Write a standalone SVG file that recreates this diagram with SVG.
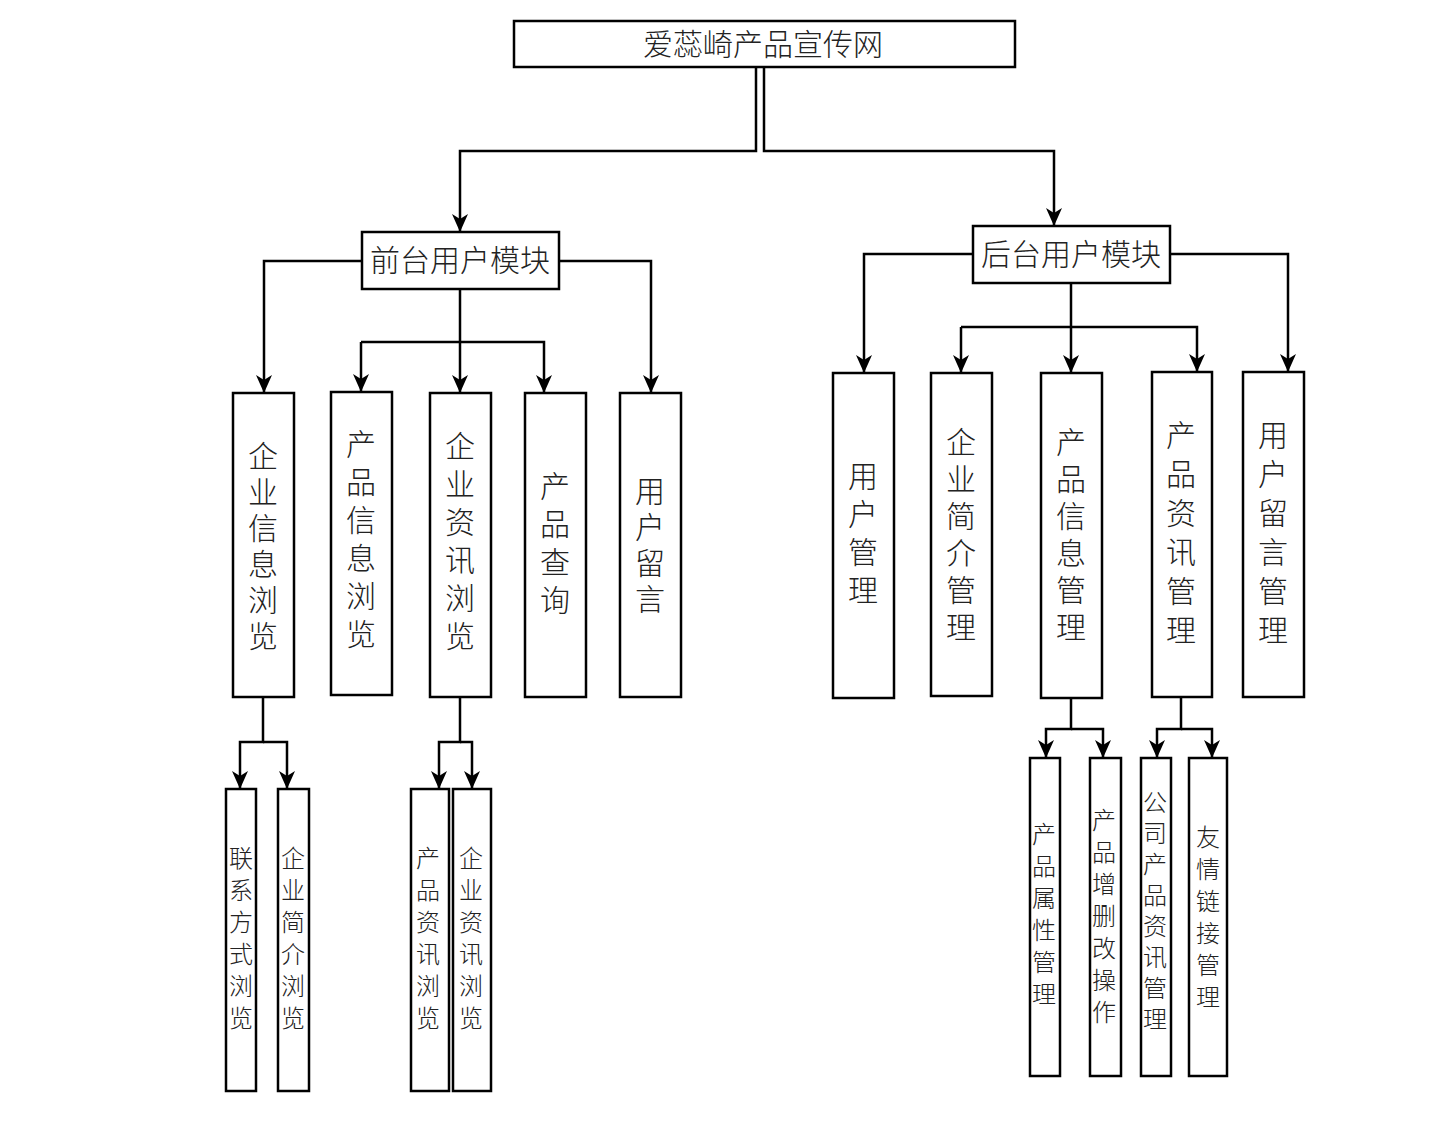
<svg xmlns="http://www.w3.org/2000/svg" width="1433" height="1144" viewBox="0 0 1433 1144">
<style>
rect{fill:#fff;stroke:#000;stroke-width:2.5}
text{font-family:"Noto Sans CJK SC","Liberation Sans",sans-serif;font-weight:300;fill:#222;text-anchor:middle}
.b{font-size:30px}.s{font-size:24px}
#c path{fill:none;stroke:#000;stroke-width:2.5;marker-end:url(#a)}
</style>
<defs><marker id="a" markerUnits="userSpaceOnUse" markerWidth="18" markerHeight="16" refX="17" refY="8" orient="auto" viewBox="0 0 18 16"><path d="M0,0 L5,8 L0,16 L18,8 Z" fill="#000"/></marker></defs>
<rect width="1433" height="1144" style="stroke:none"/>
<g id="c">
<path d="M756,67V151H460V231"/>
<path d="M764,67V151H1054V225"/>
<path d="M362,261H264V392"/><path d="M559,261H651V392"/><path d="M460,289V392"/>
<path d="M361,342H544V392"/><path d="M361,342V391"/>
<path d="M973,254H864V372"/><path d="M1170,254H1288V371"/><path d="M1071,283V372"/>
<path d="M961,327H1197V371"/><path d="M961,327V372"/>
<path d="M263,697V742H240V788"/><path d="M263,742H287V788"/>
<path d="M460,697V742H439V788"/><path d="M460,742H472V788"/>
<path d="M1071,698V729H1046V757"/><path d="M1071,729H1103V757"/>
<path d="M1181,698V729H1157V757"/><path d="M1181,729H1212V757"/>
</g>
<g id="n0"><rect x="514" y="21" width="501" height="46"/><text class="b" x="763" y="55">爱蕊崎产品宣传网</text></g>
<g id="n1"><rect x="362" y="232" width="197" height="57"/><text class="b" x="460" y="271">前台用户模块</text></g>
<g id="n2"><rect x="973" y="226" width="197" height="57"/><text class="b" x="1071" y="265">后台用户模块</text></g>
<g id="f1"><rect x="233" y="393" width="61" height="304"/><text class="b"><tspan x="263" y="467">企</tspan><tspan x="263" dy="36">业</tspan><tspan x="263" dy="36">信</tspan><tspan x="263" dy="36">息</tspan><tspan x="263" dy="36">浏</tspan><tspan x="263" dy="36">览</tspan></text></g>
<g id="f2"><rect x="331" y="392" width="61" height="303"/><text class="b"><tspan x="361" y="455">产</tspan><tspan x="361" dy="38">品</tspan><tspan x="361" dy="38">信</tspan><tspan x="361" dy="38">息</tspan><tspan x="361" dy="38">浏</tspan><tspan x="361" dy="38">览</tspan></text></g>
<g id="f3"><rect x="430" y="393" width="61" height="304"/><text class="b"><tspan x="460" y="457">企</tspan><tspan x="460" dy="38">业</tspan><tspan x="460" dy="38">资</tspan><tspan x="460" dy="38">讯</tspan><tspan x="460" dy="38">浏</tspan><tspan x="460" dy="38">览</tspan></text></g>
<g id="f4"><rect x="525" y="393" width="61" height="304"/><text class="b"><tspan x="555" y="497">产</tspan><tspan x="555" dy="38">品</tspan><tspan x="555" dy="38">查</tspan><tspan x="555" dy="38">询</tspan></text></g>
<g id="f5"><rect x="620" y="393" width="61" height="304"/><text class="b"><tspan x="650" y="502">用</tspan><tspan x="650" dy="36">户</tspan><tspan x="650" dy="36">留</tspan><tspan x="650" dy="36">言</tspan></text></g>
<g id="b1"><rect x="833" y="373" width="61" height="325"/><text class="b"><tspan x="863" y="487">用</tspan><tspan x="863" dy="38">户</tspan><tspan x="863" dy="38">管</tspan><tspan x="863" dy="38">理</tspan></text></g>
<g id="b2"><rect x="931" y="373" width="61" height="323"/><text class="b"><tspan x="961" y="453">企</tspan><tspan x="961" dy="37">业</tspan><tspan x="961" dy="37">简</tspan><tspan x="961" dy="37">介</tspan><tspan x="961" dy="37">管</tspan><tspan x="961" dy="37">理</tspan></text></g>
<g id="b3"><rect x="1041" y="373" width="61" height="325"/><text class="b"><tspan x="1071" y="453">产</tspan><tspan x="1071" dy="37">品</tspan><tspan x="1071" dy="37">信</tspan><tspan x="1071" dy="37">息</tspan><tspan x="1071" dy="37">管</tspan><tspan x="1071" dy="37">理</tspan></text></g>
<g id="b4"><rect x="1152" y="372" width="60" height="325"/><text class="b"><tspan x="1181" y="446">产</tspan><tspan x="1181" dy="39">品</tspan><tspan x="1181" dy="39">资</tspan><tspan x="1181" dy="39">讯</tspan><tspan x="1181" dy="39">管</tspan><tspan x="1181" dy="39">理</tspan></text></g>
<g id="b5"><rect x="1243" y="372" width="61" height="325"/><text class="b"><tspan x="1273" y="446">用</tspan><tspan x="1273" dy="39">户</tspan><tspan x="1273" dy="39">留</tspan><tspan x="1273" dy="39">言</tspan><tspan x="1273" dy="39">管</tspan><tspan x="1273" dy="39">理</tspan></text></g>
<g id="s1"><rect x="226" y="789" width="30" height="302"/><text class="s"><tspan x="241" y="867">联</tspan><tspan x="241" dy="32">系</tspan><tspan x="241" dy="32">方</tspan><tspan x="241" dy="32">式</tspan><tspan x="241" dy="32">浏</tspan><tspan x="241" dy="32">览</tspan></text></g>
<g id="s2"><rect x="278" y="789" width="31" height="302"/><text class="s"><tspan x="293" y="867">企</tspan><tspan x="293" dy="32">业</tspan><tspan x="293" dy="32">简</tspan><tspan x="293" dy="32">介</tspan><tspan x="293" dy="32">浏</tspan><tspan x="293" dy="32">览</tspan></text></g>
<g id="s3"><rect x="411" y="789" width="38" height="302"/><text class="s"><tspan x="428" y="867">产</tspan><tspan x="428" dy="32">品</tspan><tspan x="428" dy="32">资</tspan><tspan x="428" dy="32">讯</tspan><tspan x="428" dy="32">浏</tspan><tspan x="428" dy="32">览</tspan></text></g>
<g id="s4"><rect x="453" y="789" width="38" height="302"/><text class="s"><tspan x="471" y="867">企</tspan><tspan x="471" dy="32">业</tspan><tspan x="471" dy="32">资</tspan><tspan x="471" dy="32">讯</tspan><tspan x="471" dy="32">浏</tspan><tspan x="471" dy="32">览</tspan></text></g>
<g id="s5"><rect x="1030" y="758" width="30" height="318"/><text class="s"><tspan x="1044" y="843">产</tspan><tspan x="1044" dy="32">品</tspan><tspan x="1044" dy="32">属</tspan><tspan x="1044" dy="32">性</tspan><tspan x="1044" dy="32">管</tspan><tspan x="1044" dy="32">理</tspan></text></g>
<g id="s6"><rect x="1090" y="758" width="31" height="318"/><text class="s"><tspan x="1104" y="829">产</tspan><tspan x="1104" dy="32">品</tspan><tspan x="1104" dy="32">增</tspan><tspan x="1104" dy="32">删</tspan><tspan x="1104" dy="32">改</tspan><tspan x="1104" dy="32">操</tspan><tspan x="1104" dy="32">作</tspan></text></g>
<g id="s7"><rect x="1141" y="758" width="30" height="318"/><text class="s"><tspan x="1155" y="811">公</tspan><tspan x="1155" dy="31">司</tspan><tspan x="1155" dy="31">产</tspan><tspan x="1155" dy="31">品</tspan><tspan x="1155" dy="31">资</tspan><tspan x="1155" dy="31">讯</tspan><tspan x="1155" dy="31">管</tspan><tspan x="1155" dy="31">理</tspan></text></g>
<g id="s8"><rect x="1189" y="758" width="38" height="318"/><text class="s"><tspan x="1208" y="846">友</tspan><tspan x="1208" dy="32">情</tspan><tspan x="1208" dy="32">链</tspan><tspan x="1208" dy="32">接</tspan><tspan x="1208" dy="32">管</tspan><tspan x="1208" dy="32">理</tspan></text></g>
</svg>
